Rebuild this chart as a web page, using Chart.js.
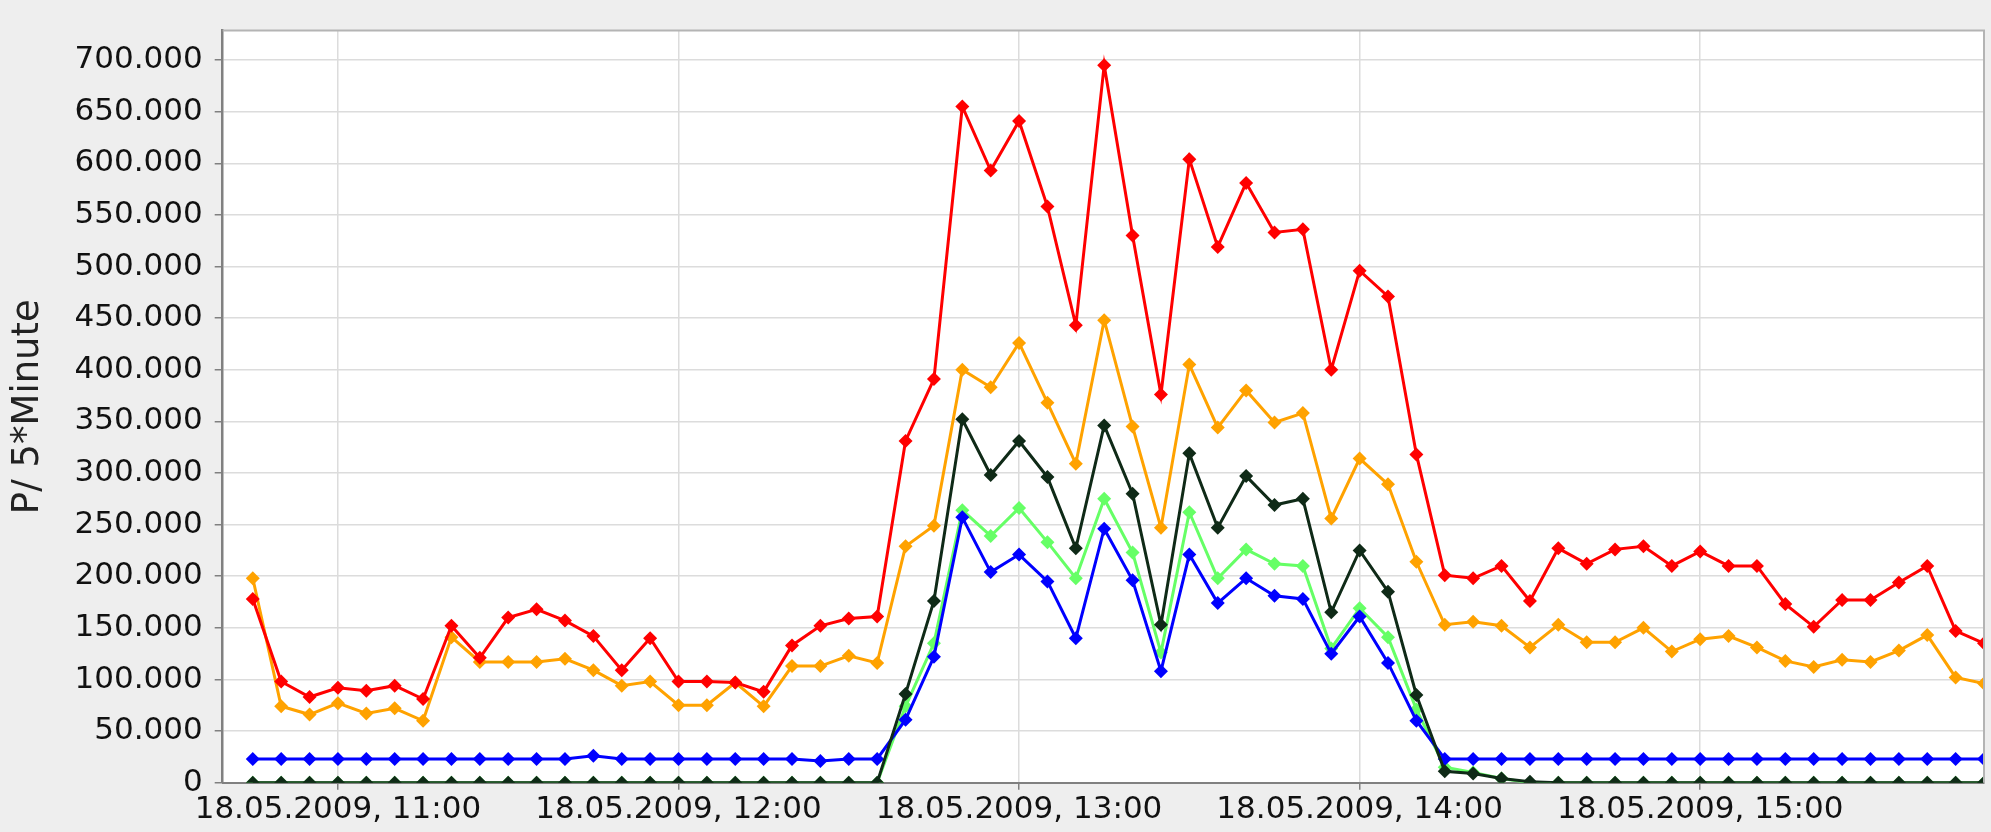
<!DOCTYPE html>
<html lang="de">
    <head>
        <meta charset="UTF-8" />
        <title>P / 5*Minute</title>
        <script src="https://cdn.jsdelivr.net/npm/chart.js"></script>
        <style>
            html, body {
                margin: 0;
                padding: 0;
                overflow: hidden;
                background-color: #eeeeee;
            }
            #chart {
                display: block;
            }
        </style>
    </head>
    <body>
        <canvas id="chart" width="1991" height="832"></canvas>
        <script>
            // Times of day (5 minute steps, 18.05.2009)
            const times = [
                "10:45", "10:50", "10:55", "11:00", "11:05", "11:10", "11:15", "11:20", "11:25", "11:30",
                "11:35", "11:40", "11:45", "11:50", "11:55", "12:00", "12:05", "12:10", "12:15", "12:20",
                "12:25", "12:30", "12:35", "12:40", "12:45", "12:50", "12:55", "13:00", "13:05", "13:10",
                "13:15", "13:20", "13:25", "13:30", "13:35", "13:40", "13:45", "13:50", "13:55", "14:00",
                "14:05", "14:10", "14:15", "14:20", "14:25", "14:30", "14:35", "14:40", "14:45", "14:50",
                "14:55", "15:00", "15:05", "15:10", "15:15", "15:20", "15:25", "15:30", "15:35", "15:40",
                "15:45", "15:50",
            ];

            // values in thousands (axis shows 700.000 etc.)
            const redData = [
                178, 98, 83, 92, 89, 94, 81, 152, 121, 160,
                168, 157, 142, 109, 140, 98, 98, 97, 88, 133,
                152, 159, 161, 331, 391, 655, 593, 641, 558, 443,
                695, 530, 376, 604, 519, 581, 533, 536, 400, 496,
                471, 318, 201, 198, 210, 176, 227, 212, 226, 229,
                210, 224, 210, 210, 173, 151, 177, 177, 194, 210,
                147, 135,
            ];
            const orangeData = [
                198, 74, 66, 77, 67, 72, 60, 141, 117, 117,
                117, 120, 109, 94, 98, 75, 75, 97, 74, 113,
                113, 123, 116, 229, 249, 400, 383, 426, 368, 309,
                448, 345, 247, 405, 344, 380, 349, 358, 256, 314,
                289, 214, 153, 156, 152, 131, 153, 136, 136, 150,
                127, 139, 142, 131, 118, 112, 119, 117, 128, 143,
                102, 96,
            ];
            const darkData = [
                0, 0, 0, 0, 0, 0, 0, 0, 0, 0,
                0, 0, 0, 0, 0, 0, 0, 0, 0, 0,
                0, 0, 0, 86, 176, 352, 298, 331, 296, 227,
                346, 280, 153, 319, 247, 297, 269, 275, 165, 225,
                185, 85, 11, 9, 4, 1, 0, 0, 0, 0,
                0, 0, 0, 0, 0, 0, 0, 0, 0, 0,
                0, 0,
            ];
            const greenData = [
                0, 0, 0, 0, 0, 0, 0, 0, 0, 0,
                0, 0, 0, 0, 0, 0, 0, 0, 0, 0,
                0, 0, 0, 74, 135, 264, 239, 266, 233, 198,
                275, 223, 126, 262, 198, 226, 212, 210, 130, 169,
                141, 71, 15, 10, 4, 0, 0, 0, 0, 0,
                0, 0, 0, 0, 0, 0, 0, 0, 0, 0,
                0, 0,
            ];
            const blueData = [
                23, 23, 23, 23, 23, 23, 23, 23, 23, 23,
                23, 23, 26, 23, 23, 23, 23, 23, 23, 23,
                21, 23, 23, 61, 122, 257, 204, 221, 195, 140,
                246, 196, 108, 221, 174, 198, 181, 178, 125, 161,
                116, 60, 23, 23, 23, 23, 23, 23, 23, 23,
                23, 23, 23, 23, 23, 23, 23, 23, 23, 23,
                23, 23,
            ];

            const xTickTimes = ["11:00", "12:00", "13:00", "14:00", "15:00"];
            const xTickLabels = [
                "18.05.2009, 11:00",
                "18.05.2009, 12:00",
                "18.05.2009, 13:00",
                "18.05.2009, 14:00",
                "18.05.2009, 15:00",
            ];
            const yTickValues = [0, 50, 100, 150, 200, 250, 300, 350, 400, 450, 500, 550, 600, 650, 700];

            const toMinutes = (t) => {
                const [h, m] = t.split(":").map(Number);
                return h * 60 + m;
            };

            const points = (values) =>
                values.map((v, i) => ({ x: toMinutes(times[i]), y: v }));

            const series = (data, color) => ({
                data: points(data),
                borderColor: color,
                backgroundColor: color,
                borderWidth: 3,
                pointStyle: "rectRot",
                pointRadius: 7,
                pointBorderWidth: 0,
                pointBackgroundColor: color,
                tension: 0,
                clip: 0,
            });

            // white plot area + gray outline
            const plotBackground = {
                id: "plotBackground",
                beforeDraw(chart) {
                    const { ctx, chartArea: a } = chart;
                    ctx.save();
                    ctx.fillStyle = "#ffffff";
                    ctx.fillRect(a.left, a.top, a.right - a.left, a.bottom - a.top);
                    ctx.restore();
                },
                afterDraw(chart) {
                    const { ctx, chartArea: a } = chart;
                    ctx.save();
                    ctx.strokeStyle = "#b4b4b4";
                    ctx.lineWidth = 2;
                    ctx.beginPath();
                    ctx.moveTo(a.left, a.top);
                    ctx.lineTo(a.right, a.top);
                    ctx.lineTo(a.right, a.bottom);
                    ctx.stroke();
                    ctx.restore();
                },
            };

            const tickFont = { family: "DejaVu Sans", size: 31 };

            new Chart("chart", {
                type: "line",
                data: {
                    datasets: [
                        series(redData, "#ff0000"),
                        series(orangeData, "#ffa200"),
                        series(darkData, "#0f2a17"),
                        series(blueData, "#0000ff"),
                        series(greenData, "#66ff66"),
                    ],
                },
                options: {
                    responsive: false,
                    animation: false,
                    devicePixelRatio: 1,
                    layout: {
                        padding: { top: 8, right: 5, left: 0, bottom: 0 },
                    },
                    plugins: {
                        legend: { display: false },
                        tooltip: { enabled: false },
                    },
                    scales: {
                        x: {
                            type: "linear",
                            min: 639.7,
                            max: 950,
                            afterBuildTicks: (scale) => {
                                scale.ticks = xTickTimes.map((t) => ({ value: toMinutes(t) }));
                            },
                            afterFit: (scale) => {
                                scale.height = 49.3;
                            },
                            ticks: {
                                autoSkip: false,
                                maxRotation: 0,
                                color: "#111111",
                                font: tickFont,
                                padding: 2,
                                callback: (v) => xTickLabels[xTickTimes.map(toMinutes).indexOf(v)],
                            },
                            grid: {
                                color: "#dcdcdc",
                                lineWidth: 1.5,
                                tickColor: "#808080",
                                tickLength: 7,
                            },
                            border: { color: "#808080", width: 2 },
                        },
                        y: {
                            min: 0,
                            max: 728.5,
                            afterBuildTicks: (scale) => {
                                scale.ticks = yTickValues.map((v) => ({ value: v }));
                            },
                            afterFit: (scale) => {
                                scale.width = 222.7;
                            },
                            title: {
                                display: true,
                                text: "P/ 5*Minute",
                                color: "#222222",
                                font: { family: "DejaVu Sans", size: 37 },
                                padding: { top: 6, bottom: 0 },
                            },
                            ticks: {
                                color: "#111111",
                                font: tickFont,
                                padding: 12,
                                callback: (v) => (v === 0 ? "0" : v + ".000"),
                            },
                            grid: {
                                color: "#dcdcdc",
                                lineWidth: 1.5,
                                tickColor: "#808080",
                                tickLength: 8,
                            },
                            border: { color: "#808080", width: 2.5 },
                        },
                    },
                },
                plugins: [plotBackground],
            });
        </script>
    </body>
</html>
